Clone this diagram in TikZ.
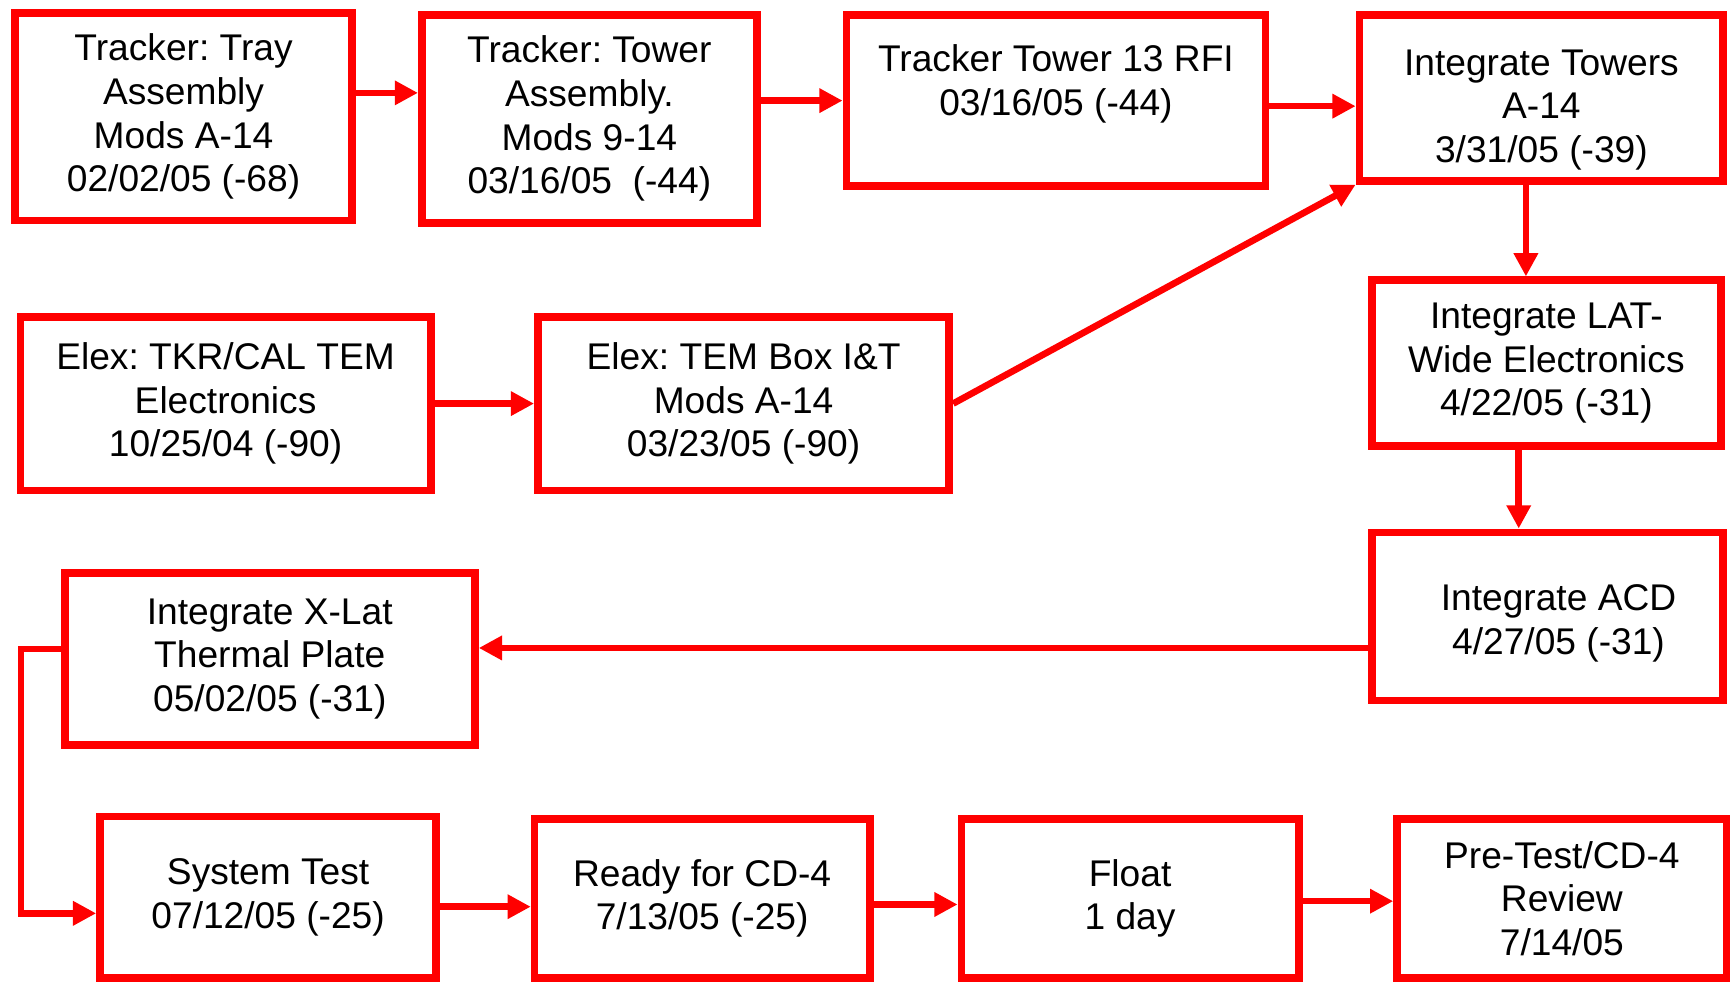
\documentclass[tikz,border=0pt]{standalone}
\usepackage{fontspec}
\setmainfont{Liberation Sans}
\usepackage{tikz}
\usetikzlibrary{arrows.meta}

\begin{document}
\begin{tikzpicture}[x=0.5pt,y=0.5pt,yscale=-1,xscale=1,
  tasktext/.style={align=center,inner sep=0pt,font=\fontsize{16.8}{19.75}\selectfont\frenchspacing},
  task/.style={draw={rgb,255:red,255;green,0;blue,0},line width=3.5pt,tasktext},
  flow/.style={draw={rgb,255:red,255;green,0;blue,0},line width=3pt,
    -{Triangle[length=10.5pt,width=10.5pt]},fill=none}]
\useasboundingbox (0,0) rectangle (1570,893);

%Tasks: top row
\node [task,minimum width=152.5pt,minimum height=94pt] (tray) at (166,105.5) {Tracker: Tray\\Assembly\\ Mods A-14\\02/02/05 (-68)};
\node [task,minimum width=151.5pt,minimum height=94pt] (tower) at (533,107.5) {Tracker: Tower\\Assembly.\\Mods 9-14\\03/16/05 \ (-44)};
\node [task,minimum width=189.5pt,minimum height=77.5pt,
  label={[tasktext,yshift=7.5pt]center:Tracker Tower 13 RFI\\03/16/05 (-44)}] (rfi) at (955,91) {};
\node [task,minimum width=164.5pt,minimum height=75pt,
  label={[tasktext,yshift=-5.5pt]center:Integrate Towers\\A-14\\3/31/05 (-39)}] (towers) at (1394,88.5) {};
%Tasks: electronics
\node [task,minimum width=185.5pt,minimum height=78.5pt] (elex) at (204,365) {Elex: TKR/CAL TEM\\Electronics\\10/25/04 (-90)};
\node [task,minimum width=186pt,minimum height=78.5pt] (tembox) at (672.5,365) {Elex: TEM Box I\&T\\Mods A-14\\03/23/05 (-90)};
%Tasks: right column
\node [task,minimum width=158pt,minimum height=75pt] (latwide) at (1398.5,328.5) {Integrate LAT-\\Wide Electronics\\4/22/05 (-31)};
\node [task,minimum width=159pt,minimum height=76pt,
  label={[tasktext,xshift=5pt,yshift=-3.25pt]center:Integrate ACD\\4/27/05 (-31)}] (acd) at (1399.5,557.5) {};
\node [task,minimum width=185.5pt,minimum height=77.5pt] (xlat) at (244,596) {Integrate X-Lat\\Thermal Plate\\05/02/05 (-31)};
%Tasks: bottom row
\node [task,minimum width=152pt,minimum height=73pt] (systest) at (242.5,811.5) {System Test\\07/12/05 (-25)};
\node [task,minimum width=151.5pt,minimum height=72pt] (ready) at (635,812.5) {Ready for CD-4\\7/13/05 (-25)};
\node [task,minimum width=152.5pt,minimum height=72pt] (float) at (1022,812.5) {Float\\1 day};
\node [task,minimum width=149pt,minimum height=72pt] (review) at (1412.5,812.5) {Pre-Test/CD-4\\Review\\7/14/05};

%Connectors
\draw [flow] ([yshift=-10.75pt]tray.east) -- ([yshift=-10.75pt]tray.east -| tower.west);
\draw [flow] ([yshift=-8.25pt]tower.east) -- ([yshift=-8.25pt]tower.east -| rfi.west);
\draw [flow] ([yshift=2.5pt]rfi.east) -- ([yshift=2.5pt]rfi.east -| towers.west);
\draw [flow] (elex) -- (tembox);
\draw [flow] (tembox.east) -- (towers.south west);
\draw [flow] ([xshift=-7pt]towers.south) -- ([xshift=-7pt]towers.south |- latwide.north);
\draw [flow] ([xshift=-12.5pt]latwide.south) -- ([xshift=-12.5pt]latwide.south |- acd.north);
\draw [flow] ([yshift=14.25pt]acd.west) -- ([yshift=14.25pt]acd.west -| xlat.east);
\coordinate (bend) at (19,587);
\draw [flow] (xlat.west |- bend) -- (bend) |- ([yshift=7.25pt]systest.west);
\draw [flow] ([yshift=4.25pt]systest.east) -- ([yshift=4.25pt]systest.east -| ready.west);
\draw [flow] ([yshift=2.75pt]ready.east) -- ([yshift=2.75pt]ready.east -| float.west);
\draw [flow] ([yshift=1.25pt]float.east) -- ([yshift=1.25pt]float.east -| review.west);

\end{tikzpicture}
\end{document}
